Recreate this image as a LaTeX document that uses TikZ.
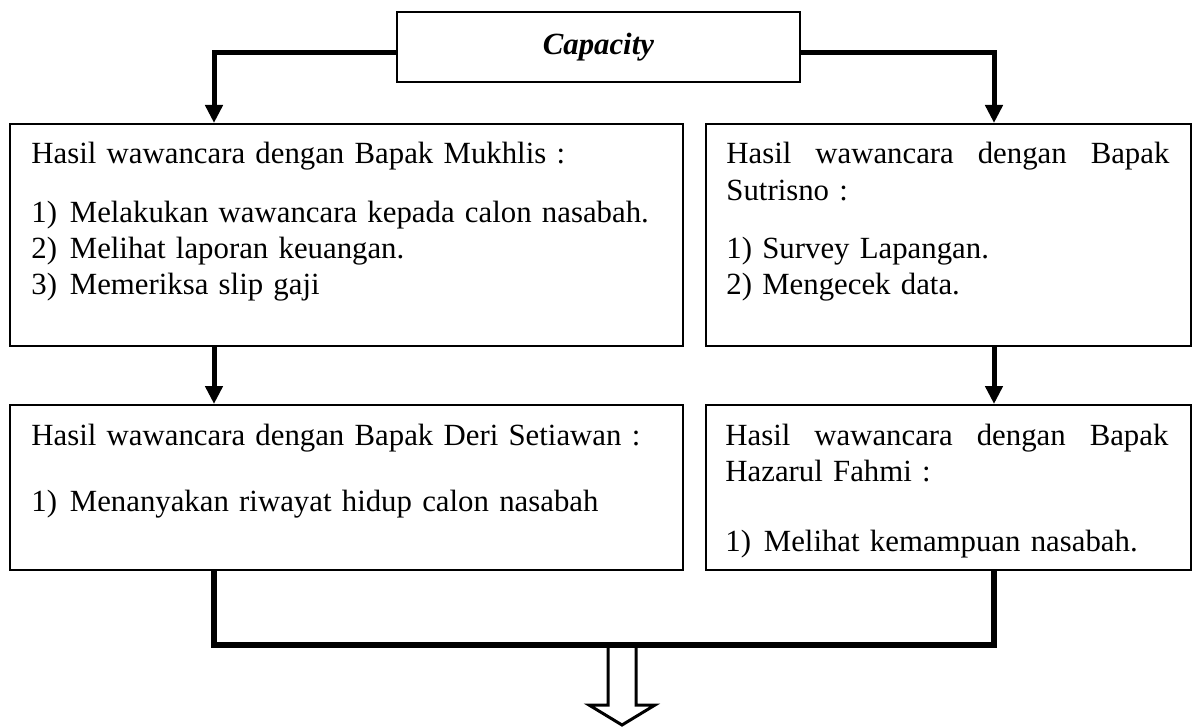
\documentclass[tikz,border=0pt]{standalone}
\usepackage{fontspec}
\setmainfont{Liberation Serif}
\usetikzlibrary{arrows.meta,calc}
% hanging label for numbered items
\newcommand\numlbl[1]{\makebox[19.25pt][l]{#1}}
% first heading line justified across the text width
\newcommand\spreadline{\hbox to 221.5pt{Hasil\hfill wawancara\hfill dengan\hfill Bapak}}
\begin{document}
\begin{tikzpicture}[x=0.5pt,y=-0.5pt,
  box/.style={draw,line width=0.9pt,rectangle,inner sep=0pt,anchor=north west},
  txt/.style={inner sep=0pt,anchor=base west,align=left,
    font=\fontsize{15.4pt}{18.25pt}\selectfont},
  conn/.style={line width=2.5pt,-{Triangle[width=8.5pt,length=9pt]}},
  joinline/.style={line width=2.6pt},
  hollow/.style={line width=1.5pt,line join=miter}]
\useasboundingbox (0,0) rectangle (1192,727);

% title box
\node[box,minimum width=201.5pt,minimum height=35pt,
  font=\fontsize{15.4pt}{18.25pt}\selectfont\bfseries\itshape] (cap) at (396,11) {Capacity};

% interview result boxes
\node[box,minimum width=336.5pt,minimum height=111pt] (b1) at (9,123) {};
\node[box,minimum width=242.5pt,minimum height=111pt] (b3) at (705,123) {};
\node[box,minimum width=336.5pt,minimum height=82.5pt] (b2) at (9,404) {};
\node[box,minimum width=242.5pt,minimum height=82.5pt] (b4) at (705,404) {};

% box texts
\node[txt,text width=330pt] (t1) at ($(b1.north west)+(22,41)$) {%
  Hasil wawancara dengan Bapak Mukhlis :\\[10.75pt]
  \numlbl{1)}Melakukan wawancara kepada calon nasabah.\\
  \numlbl{2)}Melihat laporan keuangan.\\
  \numlbl{3)}Memeriksa slip gaji};
\node[txt,text width=230pt] (t3) at ($(b3.north west)+(21,41)$) {%
  \spreadline\\
  Sutrisno :\\[10.75pt]
  1) Survey Lapangan.\\
  2) Mengecek data.};
\node[txt,text width=330pt] (t2) at ($(b2.north west)+(22,41)$) {%
  Hasil wawancara dengan Bapak Deri Setiawan :\\[14.75pt]
  \numlbl{1)}Menanyakan riwayat hidup calon nasabah};
\node[txt,text width=230pt] (t4) at ($(b4.north west)+(20,41)$) {%
  \spreadline\\
  Hazarul Fahmi :\\[16.75pt]
  \numlbl{1)}Melihat kemampuan nasabah.};

% connector columns and merge point
\coordinate (colL) at (214,0);
\coordinate (colR) at (994,0);
\coordinate (merge) at (622,645);

% connectors
\draw[conn] ([yshift=-3pt]cap.west) -| (b1.north -| colL);
\draw[conn] ([yshift=-3pt]cap.east) -| (b3.north -| colR);
\draw[conn] (b1.south -| colL) -- (b2.north -| colL);
\draw[conn] (b3.south -| colR) -- (b4.north -| colR);
\draw[joinline] (b2.south -| colL) |- (merge) -| (b4.south -| colR);

% hollow down arrow
\draw[hollow] ($(merge)+(-14,0)$) -- ++(0,60) -- ++(-19,0)
  -- ($(merge)+(0,80)$) -- ($(merge)+(33,60)$) -- ($(merge)+(14,60)$)
  -- ($(merge)+(14,0)$);
\end{tikzpicture}
\end{document}
